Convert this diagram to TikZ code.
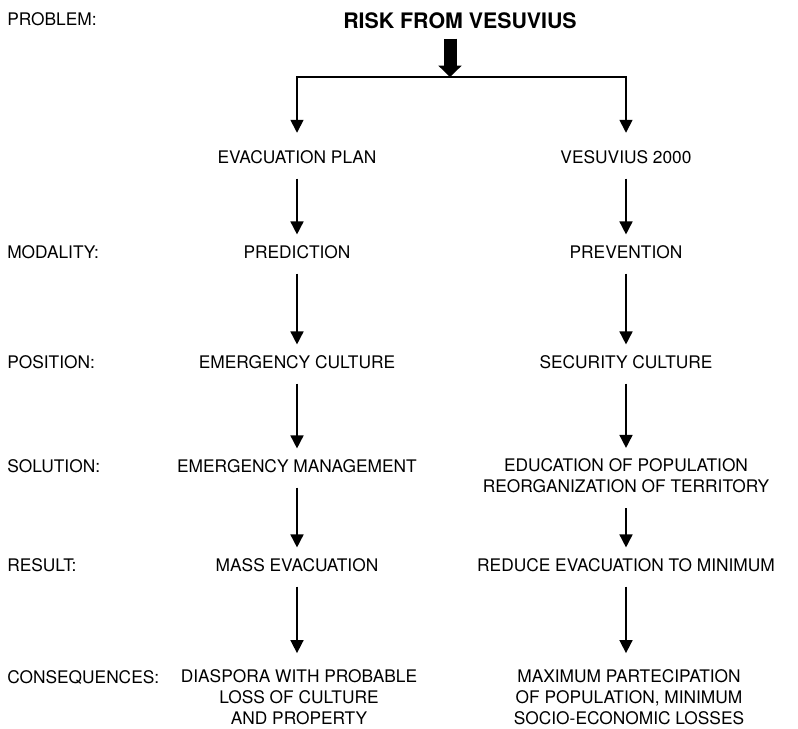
\documentclass[tikz,border=0pt]{standalone}
\usepackage{fontspec}
\setmainfont{TeX Gyre Heros}
\usetikzlibrary{arrows.meta}

\begin{document}
\begin{tikzpicture}[x=0.75pt,y=0.75pt,yscale=-1,xscale=1,
  every node/.style={inner sep=0pt, font=\fontsize{13}{15.75}\selectfont},
  rowlabel/.style={anchor=west},
  entry/.style={align=center},
  flow/.style={-{Triangle[width=9.75pt,length=9.75pt]}, line width=1.2pt, shorten <=11pt, shorten >=8pt},
  branch/.style={-{Triangle[width=9.75pt,length=9.75pt]}, line width=1.2pt, shorten >=13pt},
  bigarrow/.style={-{Triangle[width=17pt,length=8.5pt]}, line width=9.75pt, shorten <=7pt}
]
\useasboundingbox (0,0) rectangle (798,728);

% Row labels
\node [rowlabel] (lblProblem) at (7,19) {PROBLEM:};
\node [rowlabel] (lblModality) at (7,252) {MODALITY:};
\node [rowlabel] (lblPosition) at (7,362) {POSITION:};
\node [rowlabel] (lblSolution) at (7,466) {SOLUTION:};
\node [rowlabel] (lblResult) at (7,565) {RESULT:};
\node [rowlabel] (lblConseq) at (7,677) {CONSEQUENCES:};

% Title
\node (title) at (460,21) {\fontsize{16}{19}\selectfont\bfseries RISK FROM VESUVIUS};

% Left column
\node [entry] (evacPlan) at (297,157) {EVACUATION PLAN};
\node [entry] (prediction) at (297,252) {PREDICTION};
\node [entry] (emCulture) at (297,362) {EMERGENCY CULTURE};
\node [entry] (emManage) at (297,466) {EMERGENCY MANAGEMENT};
\node [entry] (massEvac) at (297,565) {MASS EVACUATION};
\node [entry] (diaspora) at (299,697) {DIASPORA WITH PROBABLE\\LOSS OF CULTURE\\AND PROPERTY};

% Right column
\node [entry] (vesuvius) at (626,157) {VESUVIUS 2000};
\node [entry] (prevention) at (626,252) {PREVENTION};
\node [entry] (secCulture) at (626,362) {SECURITY CULTURE};
\node [entry] (education) at (626,476) {EDUCATION OF POPULATION\\REORGANIZATION OF TERRITORY};
\node [entry] (reduceEvac) at (626,565) {REDUCE EVACUATION TO MINIMUM};
\node [entry] (maxPart) at (629,697) {MAXIMUM PARTECIPATION\\OF POPULATION, MINIMUM\\SOCIO-ECONOMIC LOSSES};

% Split
\coordinate (fork) at (450,77);
\draw [bigarrow] (title.south -| fork) -- (fork);
\draw [branch] (fork) -| (evacPlan);
\draw [branch] (fork) -| (vesuvius);

% Straight Lines
\draw [flow] (evacPlan) -- (prediction);
\draw [flow] (prediction) -- (emCulture);
\draw [flow] (emCulture) -- (emManage);
\draw [flow] (emManage) -- (massEvac);
\draw [flow, shorten >=12pt] (massEvac) -- (diaspora.north -| massEvac);
\draw [flow] (vesuvius) -- (prevention);
\draw [flow] (prevention) -- (secCulture);
\draw [flow] (secCulture) -- (education);
\draw [flow] (education) -- (reduceEvac);
\draw [flow, shorten >=12pt] (reduceEvac) -- (maxPart.north -| reduceEvac);

\end{tikzpicture}
\end{document}
